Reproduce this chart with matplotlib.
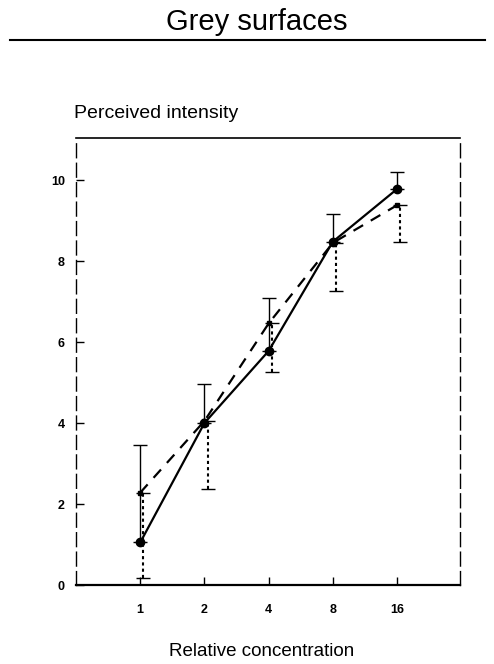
import matplotlib
matplotlib.use("Agg")
import matplotlib.pyplot as plt
import numpy as np
from matplotlib.lines import Line2D

plt.rcParams['font.family'] = ['Liberation Sans', 'DejaVu Sans']

categories = ["1", "2", "4", "8", "16"]
solid_values = [1.05, 4.0, 5.78, 8.48, 9.78]
solid_err_top = [3.45, 4.96, 7.09, 9.16, 10.19]
dashed_values = [2.28, 4.05, 6.46, 8.45, 9.38]
dashed_err_bottom = [0.17, 2.37, 5.27, 7.26, 8.48]
yticks = [0, 2, 4, 6, 8, 10]

fig = plt.figure(figsize=(4.94, 6.64), dpi=100)
ax = fig.add_axes([76/494, 1-585/664, 384/494, (585-138)/664])

x = np.arange(len(categories))
off = 0.05

# solid series with upward error bars
ax.plot(x, solid_values, color='black', lw=1.6, marker='o', ms=6, zorder=4)
ax.errorbar(x, solid_values,
            yerr=[np.zeros(len(x)), np.array(solid_err_top) - np.array(solid_values)],
            fmt='none', ecolor='black', elinewidth=1.0, capsize=5, capthick=1.0, zorder=3)

# dashed series with dotted downward error bars
ax.plot(x, dashed_values, color='black', lw=1.6, ls=(0, (5, 4)), marker='s', ms=3, zorder=3)
eb = ax.errorbar(x + off, dashed_values,
                 yerr=[np.array(dashed_values) - np.array(dashed_err_bottom), np.zeros(len(x))],
                 fmt='none', ecolor='black', elinewidth=1.5, capsize=5, capthick=1.0, zorder=3)
for lc in eb[2]:
    lc.set_linestyle((0, (1.5, 1.5)))

ax.set_xlim(-1, 4.98)
ax.set_ylim(0, 11.04)
ax.set_xticks(x)
ax.set_xticklabels(categories, fontsize=9, fontweight='bold')
ax.set_yticks(yticks)
ax.set_yticklabels([str(v) for v in yticks], fontsize=9, fontweight='bold')
ax.tick_params(axis='both', direction='in', length=6, width=1, colors='black')
ax.tick_params(axis='x', pad=14)
ax.tick_params(axis='y', pad=8)

for side in ['left', 'right']:
    ax.spines[side].set_linestyle((0, (10, 4)))
    ax.spines[side].set_linewidth(1.0)
ax.spines['top'].set_linewidth(1.2)
ax.spines['bottom'].set_linewidth(1.6)

fig.text(257/494, 1-22/664, "Grey surfaces", ha='center', va='center', fontsize=21)
fig.add_artist(Line2D([10/494, 485/494], [1-40/664, 1-40/664], color='black', lw=1.5))
fig.text(74/494, 1-113/664, "Perceived intensity", ha='left', va='center', fontsize=14)
fig.text(262/494, 1-652/664, "Relative concentration", ha='center', va='center', fontsize=13.5)

fig.savefig("out.png", dpi=100)
